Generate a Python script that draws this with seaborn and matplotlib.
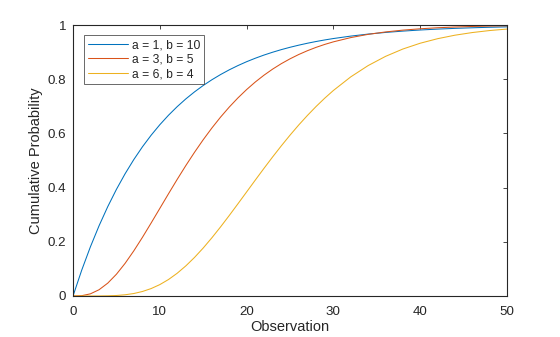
import matplotlib
matplotlib.use("Agg")
import matplotlib.pyplot as plt
import seaborn as sns
import pandas as pd

# Observation grid and cumulative probabilities of three gamma distributions
observation = list(range(0, 31)) + [32, 34, 36, 38, 40, 42, 44, 46, 48, 50]
cdf_a1_b10 = [0.0, 0.0952, 0.1813, 0.2592, 0.3297, 0.3935, 0.4512, 0.5034,
              0.5507, 0.5934, 0.6321, 0.6671, 0.6988, 0.7275, 0.7534, 0.7769,
              0.7981, 0.8173, 0.8347, 0.8504, 0.8647, 0.8775, 0.8892, 0.8997,
              0.9093, 0.9179, 0.9257, 0.9328, 0.9392, 0.9450, 0.9502,
              0.9592, 0.9666, 0.9727, 0.9776, 0.9817, 0.9850, 0.9877, 0.9899,
              0.9918, 0.9933]
cdf_a3_b5 = [0.0, 0.0011, 0.0079, 0.0231, 0.0474, 0.0803, 0.1205, 0.1665,
             0.2166, 0.2694, 0.3233, 0.3773, 0.4303, 0.4816, 0.5305, 0.5768,
             0.6201, 0.6603, 0.6973, 0.7311, 0.7619, 0.7898, 0.8149, 0.8374,
             0.8575, 0.8753, 0.8912, 0.9052, 0.9176, 0.9285, 0.9380,
             0.9537, 0.9656, 0.9745, 0.9812, 0.9862, 0.9900, 0.9927, 0.9947,
             0.9962, 0.9972]
cdf_a6_b4 = [0.0, 0.0, 0.00001, 0.0001, 0.0006, 0.0018, 0.0045, 0.0091,
             0.0166, 0.0274, 0.0420, 0.0608, 0.0839, 0.1112, 0.1424, 0.1771,
             0.2149, 0.2551, 0.2971, 0.3403, 0.3840, 0.4278, 0.4711, 0.5134,
             0.5543, 0.5936, 0.6310, 0.6662, 0.6993, 0.7301, 0.7586,
             0.8088, 0.8504, 0.8843, 0.9115, 0.9329, 0.9496, 0.9625, 0.9723,
             0.9797, 0.9852]
series_labels = ["a = 1, b = 10", "a = 3, b = 5", "a = 6, b = 4"]
x_ticks = [0, 10, 20, 30, 40, 50]
y_ticks = [0, 0.2, 0.4, 0.6, 0.8, 1]
y_tick_labels = ["0", "0.2", "0.4", "0.6", "0.8", "1"]

sns.set_style("white")
plt.rcParams["font.family"] = ["Liberation Sans", "DejaVu Sans"]

df = pd.DataFrame({
    "Observation": observation * 3,
    "Cumulative Probability": cdf_a1_b10 + cdf_a3_b5 + cdf_a6_b4,
    "Parameters": [series_labels[0]] * len(observation)
                  + [series_labels[1]] * len(observation)
                  + [series_labels[2]] * len(observation),
})

palette = ["#0072BD", "#D95319", "#EDB120"]
axis_color = "#262626"

fig = plt.figure(figsize=(5.6, 3.37), dpi=100)
ax = fig.add_axes([0.1304, 0.1217, 0.7750, 0.8040])

sns.lineplot(data=df, x="Observation", y="Cumulative Probability",
             hue="Parameters", palette=palette, linewidth=0.75, ax=ax,
             legend=True)

ax.set_xlim(0, 50)
ax.set_ylim(0, 1)
ax.set_xticks(x_ticks)
ax.set_xticklabels([str(t) for t in x_ticks])
ax.set_yticks(y_ticks)
ax.set_yticklabels(y_tick_labels)
ax.set_xlabel("Observation", fontsize=10.5, color=axis_color, labelpad=1.5)
ax.set_ylabel("Cumulative Probability", fontsize=10.5, color=axis_color,
              labelpad=3)

for side in ["left", "right", "top", "bottom"]:
    ax.spines[side].set_visible(True)
    ax.spines[side].set_color(axis_color)
    ax.spines[side].set_linewidth(0.8)

ax.tick_params(direction="in", length=3, width=0.6, colors=axis_color,
               labelsize=9.6, top=True, right=True)
ax.tick_params(axis="x", pad=7.5)
ax.tick_params(axis="y", pad=5)
ax.tick_params(axis="both", labelcolor=axis_color)

leg = ax.legend(loc="upper left", bbox_to_anchor=(0.0253, 0.963),
                fontsize=8.7, frameon=True, fancybox=False,
                edgecolor=axis_color, handlelength=3.3, handletextpad=0.3,
                borderpad=0.35, labelspacing=0.2, borderaxespad=0)
leg.get_frame().set_linewidth(0.6)
for line in leg.get_lines():
    line.set_linewidth(0.75)
for text in leg.get_texts():
    text.set_color(axis_color)

fig.savefig("out.png", dpi=100)
